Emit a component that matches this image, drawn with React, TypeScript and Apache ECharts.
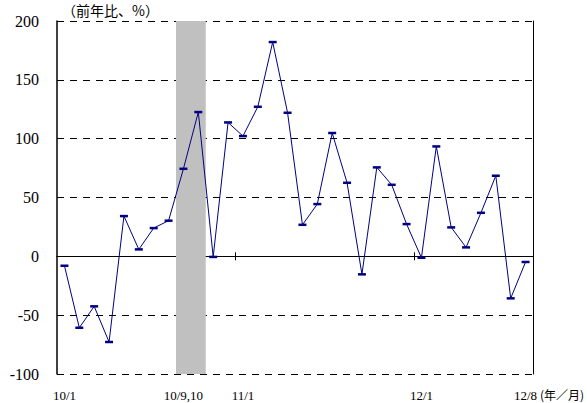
import React, { useEffect, useRef } from 'react';
import * as echarts from 'echarts';

const categories = [
  '10/1', '10/2', '10/3', '10/4', '10/5', '10/6', '10/7', '10/8', '10/9', '10/10', '10/11', '10/12',
  '11/1', '11/2', '11/3', '11/4', '11/5', '11/6', '11/7', '11/8', '11/9', '11/10', '11/11', '11/12',
  '12/1', '12/2', '12/3', '12/4', '12/5', '12/6', '12/7', '12/8',
];
const values = [
  -8, -60.7, -42.5, -72.8, 34.2, 5.9, 24, 30.3, 74.4, 122.6, -0.5, 113.8,
  102.2, 127.1, 182.1, 122, 26.8, 44.4, 104.8, 62.5, -15.3, 75.6, 60.8, 27.4,
  -1.2, 93.4, 24.6, 7.6, 37, 68.5, -35.7, -4.8,
];
const labelIndices = [0, 8, 12, 24, 31];
const labelTexts = ['10/1', '10/9,10', '11/1', '12/1', '12/8'];
const yearTickIndices = [12, 24];
// shaded months 10/9 and 10/10 (category indices 8 and 9)
const shadedFromIndex = 8;
const shadedToIndex = 9;
const yTitle = '（前年比、%）';
const xUnit = '(年／月)';

const SERIF = 'Times New Roman, Liberation Serif, DejaVu Serif, serif';
const CJK = 'Noto Sans CJK JP';

export default function App() {
  const ref = useRef<HTMLDivElement>(null);
  useEffect(() => {
    if (!ref.current) return;
    const chart = echarts.init(ref.current, undefined, { renderer: 'svg' });
    const zeroAxisBase = {
      type: 'category' as const,
      data: categories,
      boundaryGap: true,
      axisLine: { show: true, onZero: true, onZeroAxisIndex: 0, lineStyle: { color: '#000', width: 1 } },
      axisTick: { show: true, length: 4, interval: (i: number) => yearTickIndices.includes(i), lineStyle: { color: '#000' } },
      axisLabel: { show: false },
      splitLine: { show: false },
    };
    chart.setOption({
      animation: false,
      textStyle: { fontFamily: SERIF },
      grid: { left: 57, right: 54, top: 21, bottom: 29, containLabel: false },
      xAxis: [
        {
          type: 'category',
          data: categories,
          boundaryGap: true,
          position: 'bottom',
          axisLine: { show: false, onZero: false },
          axisTick: { show: false },
          splitLine: { show: false },
          axisLabel: {
            show: true,
            interval: (i: number) => labelIndices.includes(i),
            formatter: (_v: string, i: number) => labelTexts[labelIndices.indexOf(i)] ?? '',
            margin: 15,
            color: '#000',
            fontSize: 13,
            fontFamily: SERIF,
          },
        },
        { ...zeroAxisBase, position: 'bottom' },
        { ...zeroAxisBase, position: 'top' },
        {
          type: 'value',
          min: 0,
          max: categories.length,
          show: false,
          position: 'bottom',
          axisLine: { onZero: false },
          splitLine: { show: false },
        },
      ],
      yAxis: [
        {
          type: 'value',
          min: -100,
          max: 200,
          interval: 50,
          position: 'left',
          axisLine: { show: true, lineStyle: { color: '#000', width: 1.5 } },
          axisTick: { show: false },
          axisLabel: { color: '#000', fontSize: 16, fontFamily: SERIF, margin: 18 },
          splitLine: { show: true, lineStyle: { color: '#000', type: [7, 6], width: 1 } },
        },
        {
          type: 'value',
          min: -100,
          max: 200,
          interval: 50,
          position: 'right',
          axisLine: { show: true, lineStyle: { color: '#000', width: 1 } },
          axisTick: { show: false },
          axisLabel: { show: false },
          splitLine: { show: false },
        },
      ],
      series: [
        {
          type: 'line',
          data: [],
          xAxisIndex: 3,
          yAxisIndex: 0,
          symbol: 'none',
          z: 2,
          markArea: {
            silent: true,
            itemStyle: { color: '#c0c0c0', opacity: 1 },
            data: [[{ xAxis: shadedFromIndex }, { xAxis: shadedToIndex + 1 }]],
          },
        },
        {
          type: 'line',
          data: values,
          xAxisIndex: 0,
          yAxisIndex: 0,
          lineStyle: { color: '#000080', width: 1 },
          itemStyle: { color: '#000080' },
          symbol: 'rect',
          symbolSize: [8, 2.5],
          showAllSymbol: true,
          z: 5,
        },
      ],
      graphic: [
        { type: 'text', left: 62, top: 3, style: { text: yTitle, fontSize: 14, fontFamily: CJK, fill: '#000' } },
        { type: 'text', left: 540, top: 388, style: { text: xUnit, fontSize: 12, fontFamily: CJK, fill: '#000' } },
      ],
    });
    return () => chart.dispose();
  }, []);
  return <div ref={ref} style={{ position: 'absolute', left: 0, top: 0, width: 587, height: 403 }} />;
}
